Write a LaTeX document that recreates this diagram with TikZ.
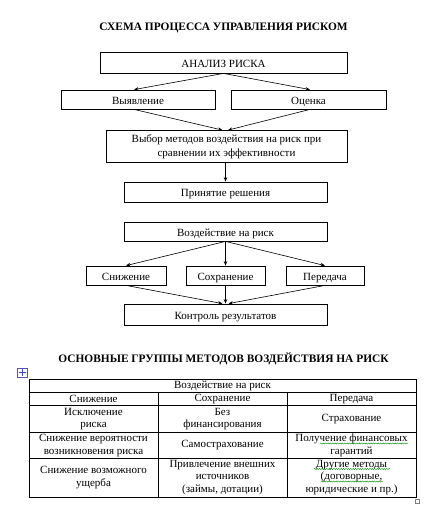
\documentclass[tikz,border=0pt]{standalone}
\usepackage{fontspec}
\setmainfont{Liberation Serif}
\usetikzlibrary{arrows.meta,decorations.pathmorphing}
\begin{document}
\begin{tikzpicture}[x=1pt,y=-1pt,
  box/.style={draw,line width=0.8pt,inner sep=0pt,align=center,font=\fontsize{11}{13.5}\selectfont},
  box1/.style={box,text height=9.5pt,text depth=0.5pt},
  arr/.style={line width=0.6pt,-{Stealth[length=4.5pt,width=3.5pt]}},
  ttl/.style={font=\fontsize{11.4}{13}\selectfont\bfseries},
  cell/.style={align=center,inner sep=0pt,font=\fontsize{11}{12.5}\selectfont},
  grid/.style={line width=1pt},
  wavy/.style={draw=green!55!black,line width=0.4pt,decorate,decoration={snake,amplitude=0.6pt,segment length=2.4pt}}]
\useasboundingbox (0,0) rectangle (439,527);
\fill[white] (0,0) rectangle (439,527);
% ---- scheme ----
\node[ttl] (t1) at (223.5,28) {СХЕМА ПРОЦЕССА УПРАВЛЕНИЯ РИСКОМ};
\node[box1,minimum width=247pt,minimum height=21pt] (an) at (223.5,62.5) {АНАЛИЗ РИСКА};
\node[box1,minimum width=154pt,minimum height=19pt] (vy) at (138,99.5) {Выявление};
\node[box1,minimum width=155pt,minimum height=19pt] (oc) at (308.5,99.5) {Оценка};
\node[box,minimum width=241pt,minimum height=32pt] (vb) at (226.5,146.5) {Выбор методов воздействия на риск при\\сравнении их эффективности};
\node[box1,minimum width=203pt,minimum height=20pt] (pr) at (225.5,192) {Принятие решения};
\node[box1,minimum width=203pt,minimum height=19pt] (vo) at (225.5,231.5) {Воздействие на риск};
\node[box1,minimum width=80pt,minimum height=19pt] (sn) at (126,275.5) {Снижение};
\node[box1,minimum width=79pt,minimum height=19pt] (so) at (225.5,275.5) {Сохранение};
\node[box1,minimum width=78pt,minimum height=19pt] (pe) at (325,275.5) {Передача};
\node[box1,minimum width=203pt,minimum height=21pt] (ko) at (225.5,314.5) {Контроль результатов};
\draw[arr] (an.south) -- ([xshift=-4pt]vy.north);
\draw[arr] (an.south) -- ([xshift=1.5pt]oc.north);
\draw[arr] ([xshift=-4pt]vy.south) -- ([xshift=-4pt]vb.north);
\draw[arr] ([xshift=1.5pt]oc.south) -- ([xshift=1.5pt]vb.north);
\draw[arr] ([xshift=-1pt]vb.south) -- (pr.north);
\draw[arr] (vo.south) -- (sn.north);
\draw[arr] (vo.south) -- (so.north);
\draw[arr] (vo.south) -- (pe.north);
\draw[arr] (sn.south) -- ([xshift=-3pt]ko.north);
\draw[arr] (so.south) -- (ko.north);
\draw[arr] (pe.south) -- ([xshift=3pt]ko.north);
% ---- table ----
\node[ttl] (t2) at (223.5,359) {ОСНОВНЫЕ ГРУППЫ МЕТОДОВ ВОЗДЕЙСТВИЯ НА РИСК};
% move handle
\node[draw=blue!35!gray,line width=0.4pt,fill=white,minimum width=10pt,minimum height=9pt,inner sep=0pt] (mh) at (22.5,372.5) {};
\draw[blue!50!gray,line width=0.5pt,{Stealth[length=1.5pt,width=1.6pt]}-{Stealth[length=1.5pt,width=1.6pt]}] ([xshift=1.5pt]mh.west) -- ([xshift=-1.5pt]mh.east);
\draw[blue!50!gray,line width=0.5pt,{Stealth[length=1.5pt,width=1.6pt]}-{Stealth[length=1.5pt,width=1.6pt]}] ([yshift=-1.2pt]mh.north) -- ([yshift=1.2pt]mh.south);
\node[draw=gray,line width=0.4pt,minimum size=4pt,inner sep=0pt] (rh) at (417.5,501) {};
% grid
\draw[grid] (29,379) rectangle (416,497);
\draw[grid] (29,392) -- (416,392);
\draw[grid] (29,405) -- (416,405);
\draw[grid] (29,432) -- (416,432);
\draw[grid] (29,458) -- (416,458);
\draw[grid] (158,392) -- (158,497);
\draw[grid] (287,392) -- (287,497);
% cells
\node[cell] (h) at (222.5,386) {Воздействие на риск};
\node[cell] (c21) at (93.5,399) {Снижение};
\node[cell] (c22) at (222.5,399) {Сохранение};
\node[cell] (c23) at (351.5,399) {Передача};
\node[cell] (c31) at (93.5,419) {Исключение\\риска};
\node[cell] (c32) at (222.5,419) {Без\\финансирования};
\node[cell] (c33) at (351.5,419) {Страхование};
\node[cell] (c41) at (93.5,445.5) {Снижение вероятности\\возникновения риска};
\node[cell] (c42) at (222.5,445.5) {Самострахование};
\node[cell] (c43) at (351.5,445.5) {Получение финансовых\\гарантий};
\node[cell] (c51) at (93.5,477.5) {Снижение возможного\\ущерба};
\node[cell] (c52) at (222.5,477.5) {Привлечение внешних\\источников\\(займы, дотации)};
\node[cell] (c53) at (351.5,477.5) {Другие методы\\(договорные,\\юридические и пр.)};
% spell-check underlines
\draw[wavy] (320,443.5) -- (408,443.5);
\draw[wavy] (314,469) -- (390,469);
\draw[wavy] (321,481.5) -- (383,481.5);
\end{tikzpicture}
\end{document}
